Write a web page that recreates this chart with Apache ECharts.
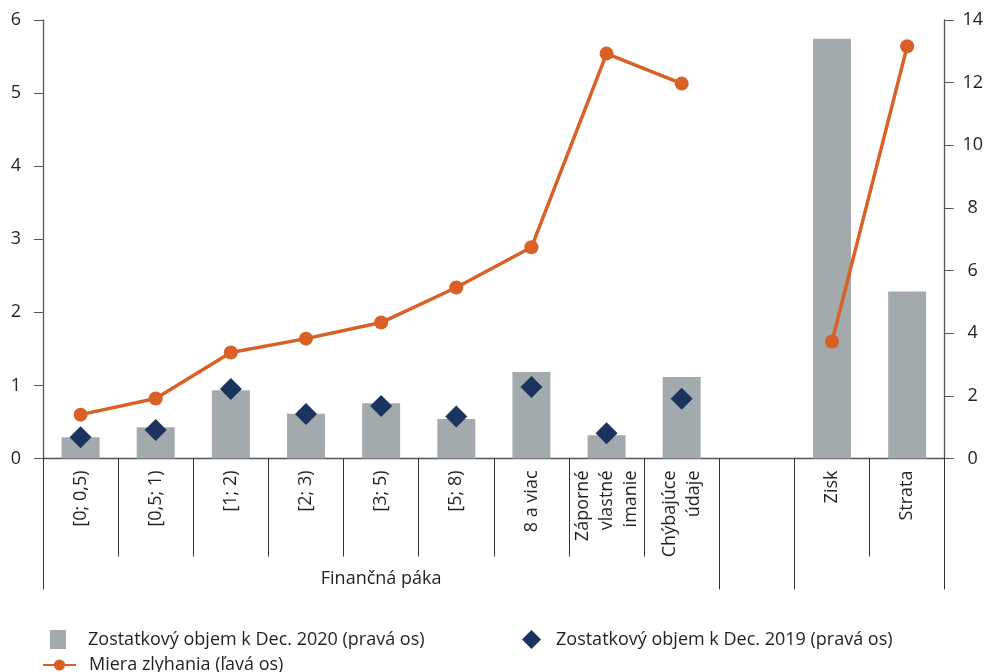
<!DOCTYPE html>
<html>
<head>
<meta charset="utf-8">
<script src="https://cdn.jsdelivr.net/npm/echarts@6/dist/echarts.min.js"></script>
<style>
  html, body { margin: 0; padding: 0; background: #fff; }
  #chart { width: 986px; height: 672px; }
</style>
</head>
<body>
<div id="chart"></div>
<script>
// Categories of the x axis (empty slot separates the two groups)
const categories = ['[0; 0,5)', '[0,5; 1)', '[1; 2)', '[2; 3)', '[3; 5)', '[5; 8)', '8 a viac',
  'Záporné\nvlastné\nimanie', 'Chýbajúce\núdaje', '', 'Zisk', 'Strata'];

// Outstanding volume Dec. 2020 (right axis)
const volume2020 = [0.68, 1.00, 2.18, 1.43, 1.76, 1.26, 2.76, 0.74, 2.60, null, 13.40, 5.33];
// Outstanding volume Dec. 2019 (right axis)
const volume2019 = [0.68, 0.91, 2.22, 1.42, 1.68, 1.34, 2.28, 0.81, 1.91, null, null, null];
// Default rate (left axis)
const defaultRate = [0.60, 0.82, 1.45, 1.64, 1.86, 2.34, 2.89, 5.54, 5.13, null, 1.60, 5.64];

// Group boundaries (in category units) and the group caption
const groupBounds = [0, 9, 10, 12];
const groupLabelPos = [4.5];
const groupLabel = 'Finančná páka';

const seriesNames = [
  'Zostatkový objem k Dec. 2020 (pravá os)',
  'Zostatkový objem k Dec. 2019 (pravá os)',
  'Miera zlyhania (ľavá os)'
];

const FONT = 'Open Sans';
const TXT = '#231f20';
const AXIS = '#555';

const chart = echarts.init(document.getElementById('chart'));
chart.setOption({
  animation: false,
  textStyle: { fontFamily: FONT },
  grid: { left: 43, right: 40, top: 20, bottom: 213.5, containLabel: false },
  legend: [
    {
      data: [seriesNames[0]], left: 45, top: 625, orient: 'horizontal',
      itemWidth: 16, itemHeight: 19, icon: 'rect',
      textStyle: { fontFamily: FONT, fontSize: 18, color: TXT, padding: [0, 0, 0, 17] }
    },
    {
      data: [seriesNames[1]], left: 517, top: 625,
      itemWidth: 19, itemHeight: 19, icon: 'diamond',
      textStyle: { fontFamily: FONT, fontSize: 18, color: TXT, padding: [0, 0, 0, 10] }
    },
    {
      data: [seriesNames[2]], left: 37, top: 651,
      itemWidth: 33, itemHeight: 14,
      textStyle: { fontFamily: FONT, fontSize: 18, color: TXT, padding: [0, 0, 0, 8] }
    }
  ],
  xAxis: [
    {
      type: 'category',
      data: categories,
      boundaryGap: true,
      axisLine: { show: true, lineStyle: { color: AXIS, width: 1.3 } },
      axisTick: { show: true, interval: 0, length: 98, lineStyle: { color: '#333', width: 1 } },
      axisLabel: {
        interval: 0, rotate: 90, margin: 12,
        fontFamily: FONT, fontSize: 18, color: TXT, lineHeight: 24
      },
      splitLine: { show: false }
    },
    {
      // Group axis: long separators and the group caption
      type: 'value',
      min: 0, max: 12,
      position: 'bottom', offset: 0,
      axisLine: { show: false },
      axisTick: { show: true, length: 131, customValues: groupBounds, lineStyle: { color: '#333', width: 1 } },
      axisLabel: {
        show: true, customValues: groupLabelPos, margin: 111,
        formatter: () => groupLabel,
        fontFamily: FONT, fontSize: 18, color: TXT
      },
      splitLine: { show: false }
    }
  ],
  yAxis: [
    {
      type: 'value', min: 0, max: 6, interval: 1, position: 'left',
      axisLine: { show: true, lineStyle: { color: AXIS, width: 1.3 } },
      axisTick: { show: true, length: 9, lineStyle: { color: AXIS } },
      axisLabel: { margin: 22, fontFamily: FONT, fontSize: 18, color: TXT },
      splitLine: { show: false }
    },
    {
      type: 'value', min: 0, max: 14, interval: 2, position: 'right',
      axisLine: { show: true, lineStyle: { color: AXIS, width: 1.3 } },
      axisTick: { show: true, length: 9, lineStyle: { color: AXIS } },
      axisLabel: { margin: 28, align: 'center', fontFamily: FONT, fontSize: 18, color: TXT },
      splitLine: { show: false }
    }
  ],
  series: [
    {
      name: seriesNames[0], type: 'bar', xAxisIndex: 0, yAxisIndex: 1,
      data: volume2020, barWidth: 38,
      itemStyle: { color: '#a3aaad' }
    },
    {
      name: seriesNames[1], type: 'scatter', xAxisIndex: 0, yAxisIndex: 1,
      data: volume2019, symbol: 'diamond', symbolSize: [22, 22],
      itemStyle: { color: '#1b335f', opacity: 1 }, z: 3
    },
    {
      name: seriesNames[2], type: 'line', xAxisIndex: 0, yAxisIndex: 0,
      data: defaultRate, connectNulls: false,
      symbol: 'circle', symbolSize: 14, showSymbol: true,
      lineStyle: { color: '#d96027', width: 3.5 },
      itemStyle: { color: '#d96027' }, z: 4
    }
  ]
});
</script>
</body>
</html>
